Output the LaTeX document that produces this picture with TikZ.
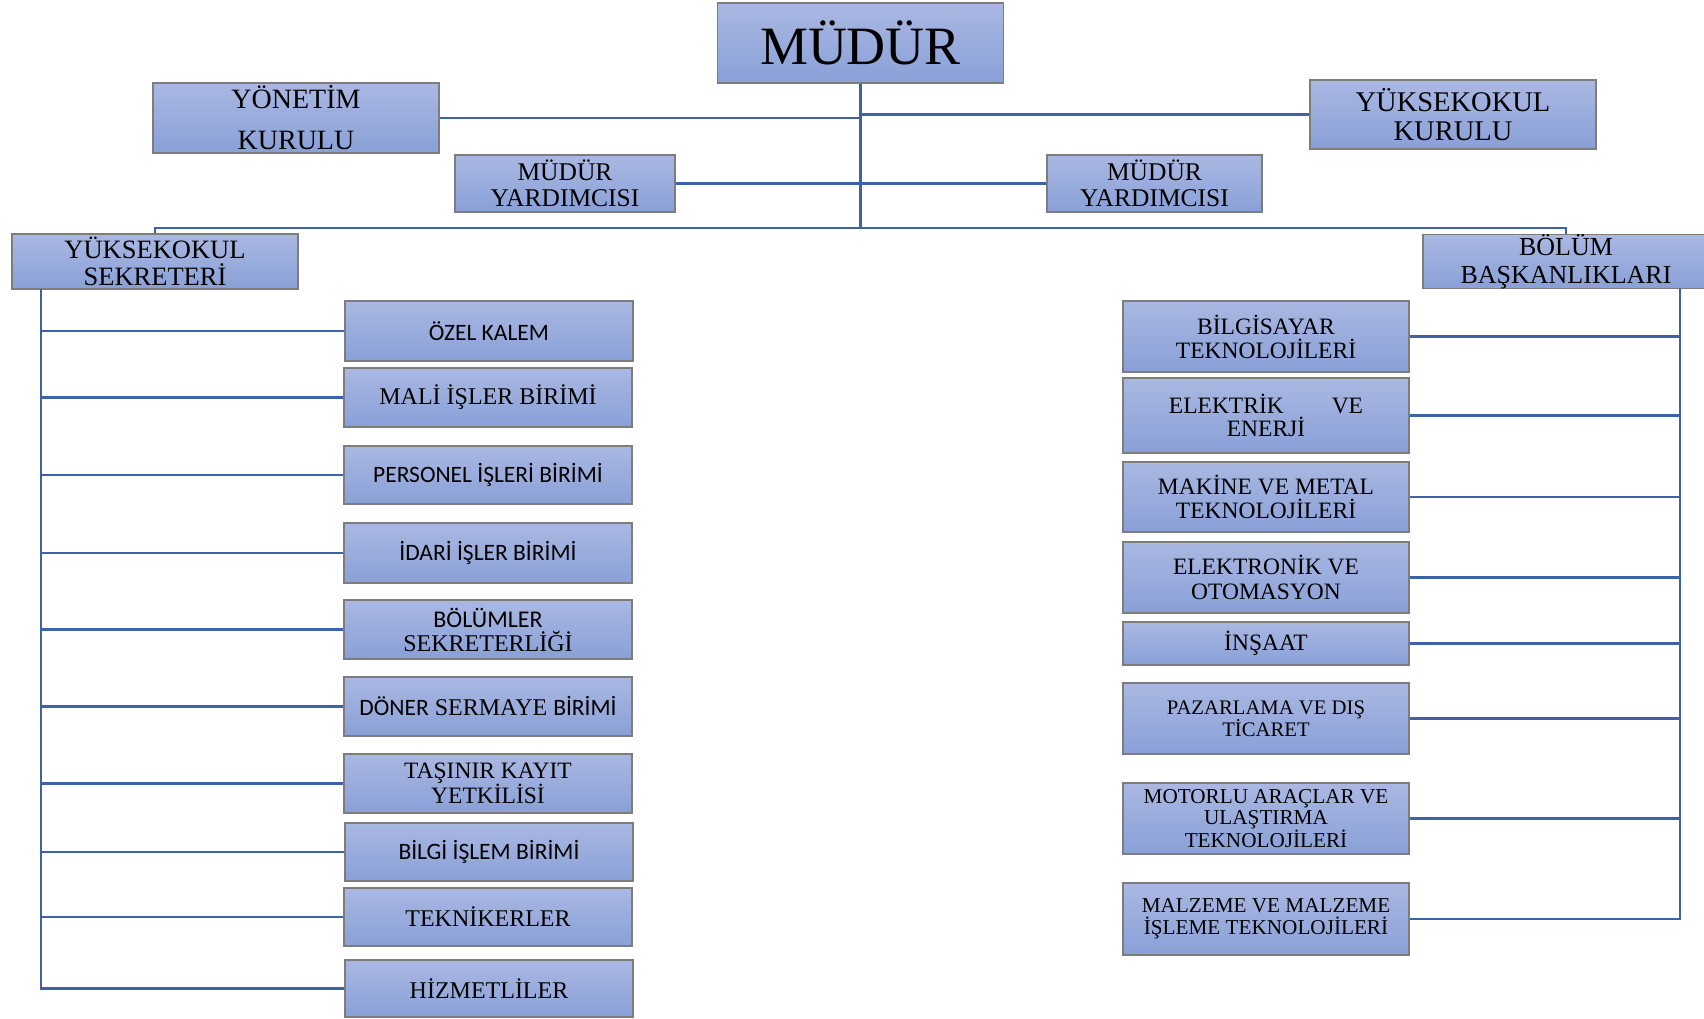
\documentclass[tikz,border=0pt]{standalone}
\usepackage{fontspec}
\setmainfont{Liberation Serif}
\newfontfamily\calfont{Carlito}
\newcommand\setfs[2]{\fontsize{#1}{#2}\selectfont}
\definecolor{boxtop}{RGB}{170,184,226}
\definecolor{boxbot}{RGB}{137,160,215}
\definecolor{boxline}{RGB}{125,125,125}
\definecolor{linecol}{RGB}{62,98,168}
\begin{document}
\begin{tikzpicture}[x=1pt,y=-1pt,
  box/.style={draw=boxline, line width=1.2pt, top color=boxtop, bottom color=boxbot,
    inner sep=0pt, align=center, text=black},
  lw/.style={box, minimum width=288pt},
  rw/.style={box, minimum width=286pt},
  conn/.style={draw=linecol, line width=2.8pt}]
\useasboundingbox (0,0) rectangle (1704,1019);
\fill[white] (0,0) rectangle (1704,1019);

% top level
\node[box, minimum width=286pt, minimum height=80pt, font=\setfs{54}{54}] (mudur) at (860.5,43) {MÜDÜR};
\node[box, minimum width=286pt, minimum height=70pt, font=\setfs{28}{41}] (yonetim) at (296,118) {YÖNETİM\\KURULU};
\node[box, minimum width=286pt, minimum height=69pt, font=\setfs{28.5}{29}] (ykurul) at (1453,114.5) {YÜKSEKOKUL\\KURULU};
\node[box, minimum width=220pt, minimum height=57pt, font=\setfs{25.5}{25.5}] (my1) at (565,183.5) {MÜDÜR\\YARDIMCISI};
\node[box, minimum width=215pt, minimum height=57pt, font=\setfs{25.5}{25.5}] (my2) at (1154.5,183.5) {MÜDÜR\\YARDIMCISI};
\node[box, minimum width=286pt, minimum height=55pt, font=\setfs{26.5}{27}] (ysek) at (155,261.5) {YÜKSEKOKUL\\SEKRETERİ};
\node[box, minimum width=286pt, minimum height=53pt, font=\setfs{26}{28}] (bolum) at (1566,261.5) {BÖLÜM\\BAŞKANLIKLARI};

% left children
\node[lw, minimum height=60pt, font=\calfont\setfs{23.5}{24}] (ozel) at (489,331) {ÖZEL KALEM};
\node[lw, minimum height=59pt, font=\setfs{24}{24}] (mali) at (488,397.5) {MALİ İŞLER BİRİMİ};
\node[lw, minimum height=58pt, font=\calfont\setfs{23.5}{24}] (personel) at (488,475) {PERSONEL İŞLERİ BİRİMİ};
\node[lw, minimum height=60pt, font=\calfont\setfs{23.5}{24}] (idari) at (488,553) {İDARİ İŞLER BİRİMİ};
\node[lw, minimum height=59pt, font=\setfs{24}{24}] (bolumler) at (488,629.5) {{\calfont BÖLÜMLER}\\SEKRETERLİĞİ};
\node[lw, minimum height=59pt, font=\setfs{24}{24}] (doner) at (488,706.5) {{\calfont\setfs{23.5}{24}DÖNER} SERMAYE {\calfont\setfs{23.5}{24}BİRİMİ}};
\node[lw, minimum height=59pt, font=\setfs{23.5}{24}] (tasinir) at (488,783.5) {TAŞINIR KAYIT\\YETKİLİSİ};
\node[lw, minimum height=58pt, font=\calfont\setfs{23.5}{24}] (bilgi) at (489,852) {BİLGİ İŞLEM BİRİMİ};
\node[lw, minimum height=58pt, font=\setfs{24}{24}] (teknik) at (488,917) {TEKNİKERLER};
\node[lw, minimum height=57pt, font=\setfs{24}{24}] (hizmet) at (489,988.5) {HİZMETLİLER};

% right children
\node[rw, minimum height=71pt, font=\setfs{23.5}{24}] (bilgisayar) at (1266,336.5) {BİLGİSAYAR\\TEKNOLOJİLERİ};
\node[rw, minimum height=75pt, font=\setfs{23.5}{22.5}] (elektrik) at (1266,415.5) {ELEKTRİK\hspace{48pt}VE\\ENERJİ};
\node[rw, minimum height=70pt, font=\setfs{23.5}{23.5}] (makine) at (1266,497) {MAKİNE VE METAL\\TEKNOLOJİLERİ};
\node[rw, minimum height=71pt, font=\setfs{23.5}{24.5}] (elektronik) at (1266,577.5) {ELEKTRONİK VE\\OTOMASYON};
\node[rw, minimum height=43pt, font=\setfs{23.5}{24}] (insaat) at (1266,643.5) {İNŞAAT};
\node[rw, minimum height=71pt, font=\setfs{20.7}{21.7}] (pazar) at (1266,718.5) {PAZARLAMA VE DIŞ\\TİCARET};
\node[rw, minimum height=71pt, font=\setfs{21.2}{21.7}] (motorlu) at (1266,818.5) {MOTORLU ARAÇLAR VE\\ULAŞTIRMA\\TEKNOLOJİLERİ};
\node[rw, minimum height=72pt, font=\setfs{21.2}{21.7}] (malzeme) at (1266,919) {MALZEME VE MALZEME\\İŞLEME TEKNOLOJİLERİ};

% junction coordinates
\coordinate (hub) at (860.5,228);
\coordinate (hl) at (155,228);
\coordinate (hr) at (1566,228);
\coordinate (lspine) at (41,289);
\coordinate (rspine) at (1680,288);

% top connectors
\draw[conn] (mudur.south) -- (hub);
\draw[conn] (yonetim.east) -- (yonetim.east -| mudur.south);
\draw[conn] (ykurul.west) -- (ykurul.west -| mudur.south);
\draw[conn] (my1.east) -- (my1.east -| mudur.south);
\draw[conn] (my2.west) -- (my2.west -| mudur.south);
\draw[conn] (ysek.north) -- (hl) -- (hr) -- (bolum.north);

% left spine
\draw[conn] (lspine) |- (hizmet.west);
\foreach \n in {ozel,mali,personel,idari,bolumler,doner,tasinir,bilgi,teknik}
  \draw[conn] (\n.west) -- (\n.west -| lspine);

% right spine
\draw[conn] (rspine) |- (malzeme.east);
\foreach \n in {bilgisayar,elektrik,makine,elektronik,insaat,pazar,motorlu}
  \draw[conn] (\n.east) -- (\n.east -| rspine);
\end{tikzpicture}
\end{document}
